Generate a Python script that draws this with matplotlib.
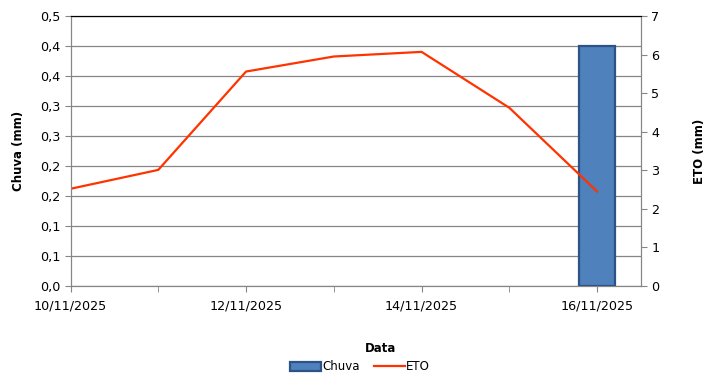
import matplotlib
matplotlib.use("Agg")
import matplotlib.pyplot as plt
import numpy as np
import pandas as pd

# data
datas = ["2025-11-10", "2025-11-11", "2025-11-12", "2025-11-13",
         "2025-11-14", "2025-11-15", "2025-11-16"]
chuva = [0, 0, 0, 0, 0, 0, 0.444]
eto = [2.52, 3.01, 5.56, 5.95, 6.07, 4.62, 2.45]

dias = pd.to_datetime(datas)
grey = "#868686"

plt.rcParams['font.family'] = ['DejaVu Sans']
fig = plt.figure(figsize=(7.25, 3.88), dpi=100)
ax = fig.add_axes([70.5/725, 1-286/388, (641-70.5)/725, 270/388])
ax2 = ax.twinx()

# zero-height bars are invisible in the original
chuva = np.array(chuva)
tem = chuva > 0
ax.bar(dias[tem], chuva[tem], width=0.41, color="#4F81BD", edgecolor="#2C5286",
       linewidth=1.6, zorder=3, label="Chuva")
ax2.plot(dias, eto, color="#FF3300", linewidth=1.6, label="ETO")

ax.set_ylim(0, 0.5)
yt = np.linspace(0, 0.5, 10)
ax.set_yticks(yt)
ax.set_yticklabels([f"{v:.1f}".replace(".", ",") for v in yt])
ax.grid(axis="y", color=grey, linewidth=0.9, zorder=0)
ax.set_axisbelow(True)

ax2.set_ylim(0, 7)
ax2.set_yticks(range(8))

ax.set_xlim(dias[0], dias[-1] + pd.Timedelta(hours=12))
ax.set_xticks(dias[::2])
ax.set_xticklabels([d.strftime("%d/%m/%Y") for d in dias[::2]])
ax.set_xticks(dias[1::2], minor=True)

for a in (ax, ax2):
    for s in ("left", "right", "bottom"):
        a.spines[s].set_color(grey)
    a.spines["top"].set_color("black")
    a.tick_params(which="both", color=grey, length=4, labelsize=9.2,
                  labelcolor="black")
ax.tick_params(axis="x", pad=6)
ax.tick_params(axis="y", pad=3)

ax.set_ylabel("Chuva (mm)", fontsize=8.5, fontweight="bold", labelpad=11)
ax2.set_ylabel("ETO (mm)", fontsize=8.5, fontweight="bold", labelpad=24)
fig.text(381/725, 1-348/388, "Data", fontsize=8.5, fontweight="bold",
         ha="center", va="center")

h1, l1 = ax.get_legend_handles_labels()
h2, l2 = ax2.get_legend_handles_labels()
fig.legend(h1 + h2, l1 + l2, loc="center", bbox_to_anchor=(360/725, 1-367/388),
           ncol=2, frameon=False, fontsize=8.5, handlelength=2.6,
           handleheight=0.9, handletextpad=0.1, columnspacing=1.2)

fig.savefig("out.png", dpi=100)
